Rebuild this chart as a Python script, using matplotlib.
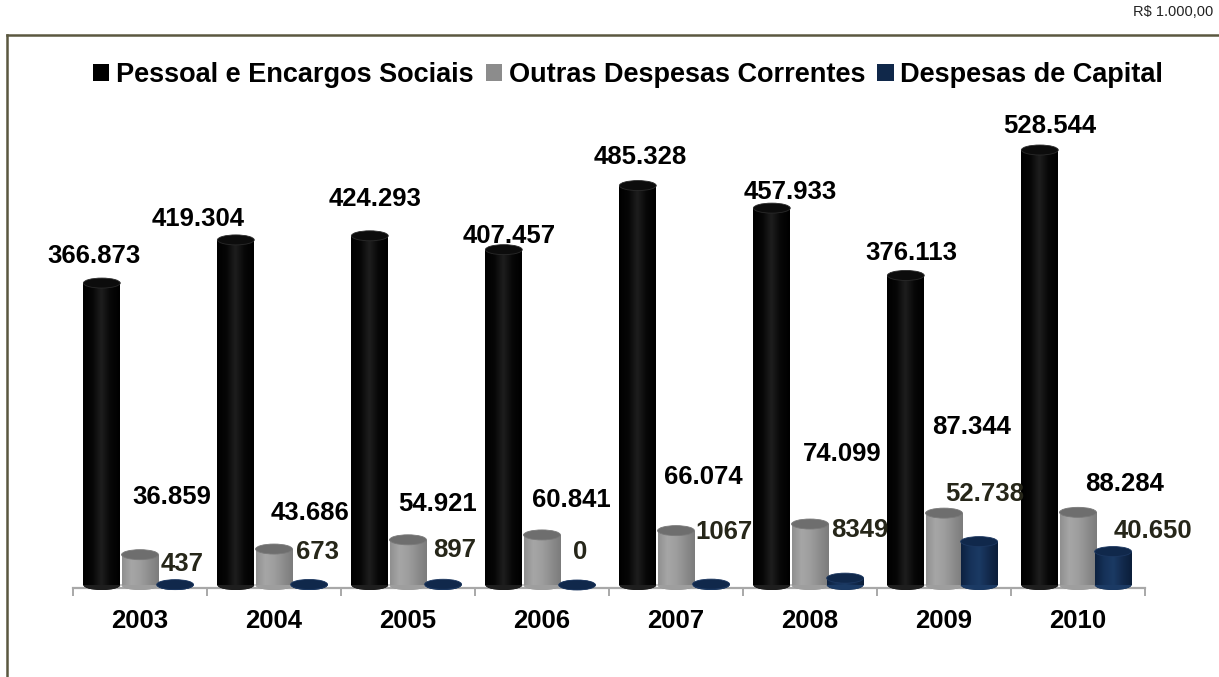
import matplotlib
matplotlib.use('Agg')
import matplotlib.pyplot as plt
import numpy as np
from matplotlib.patches import Ellipse, Patch
from matplotlib.colors import LinearSegmentedColormap
from matplotlib.lines import Line2D

plt.rcParams['font.family'] = ['Liberation Sans', 'DejaVu Sans']

# ---------------- data ----------------
years = ['2003', '2004', '2005', '2006', '2007', '2008', '2009', '2010']
series_names = ['Pessoal e Encargos Sociais', 'Outras Despesas Correntes', 'Despesas de Capital']
pessoal = [366873, 419304, 424293, 407457, 485328, 457933, 376113, 528544]
outras = [36859, 43686, 54921, 60841, 66074, 74099, 87344, 88284]
capital = [437, 673, 897, 0, 1067, 8349, 52738, 40650]
unit_note = 'R$ 1.000,00'

# label placement (pixel offsets from the top centre of each cylinder)
off_pessoal = [(-8, 27), (-38, 21), (5, 37), (5, 14), (2, 29), (18, 16), (6, 22), (10, 24)]
off_outras = [(32, 58), (36, 36), (30, 36), (29, 35), (27, 54), (32, 70), (28, 86), (47, 28)]
off_capital = [(7, 21), (8, 32), (12, 34), (3, 33), (13, 52), (15, 48), (6, 48), (40, 21)]

W, H, DPI = 1219, 677, 100
fig = plt.figure(figsize=(W / DPI, H / DPI), dpi=DPI)
fig.patch.set_facecolor('white')

ax_left, ax_right, ax_bottom, ax_top = 73, 1145, 585, 100
ax = fig.add_axes([ax_left / W, (H - ax_bottom) / H, (ax_right - ax_left) / W, (ax_bottom - ax_top) / H])
px_per_unit = 0.823 / 1000.0
ymax = (ax_bottom - ax_top) / px_per_unit
ax.set_xlim(-0.5, 7.5)
ax.set_ylim(0, ymax)
data_per_px = ymax / (ax_bottom - ax_top)


def fmt(v):
    if v >= 10000:
        return f'{v:,.0f}'.replace(',', '.')
    return f'{v:.0f}'


styles = [
    dict(vals=pessoal, shift=-0.285, offs=off_pessoal, lcolor='#000000',
         cmap=['#000000', '#060606', '#1e1e1e', '#070707', '#000000'],
         base='#050505', top='#0c0c0c', tedge='#2a2a2a'),
    dict(vals=outras, shift=0.0, offs=off_outras, lcolor='#000000',
         cmap=['#909090', '#a6a6a6', '#9e9e9e', '#8c8c8c', '#7c7c7c'],
         base='#909090', top='#6e6e6e', tedge='#7a7a7a'),
    dict(vals=capital, shift=0.262, offs=off_capital, lcolor='#262619',
         cmap=['#0c2140', '#163259', '#1b3a64', '#122a4d', '#0b1e3a'],
         base='#102648', top='#10284b', tedge='#1c3760'),
]
bw = 0.275
ell_h = 10 * data_per_px
grad = np.linspace(0, 1, 64).reshape(1, -1)
x = np.arange(len(years))

for st in styles:
    cm = LinearSegmentedColormap.from_list('c', st['cmap'])
    xs = x + st['shift']
    bars = ax.bar(xs, st['vals'], width=bw, color=st['base'], zorder=3, linewidth=0)
    for b, v, (dx, dy) in zip(bars, st['vals'], st['offs']):
        cx = b.get_x() + b.get_width() / 2
        ax.add_patch(Ellipse((cx, 0), bw, ell_h, facecolor=st['base'], edgecolor='none',
                             zorder=2.9, clip_on=False))
        if b.get_height() > 0:
            im = ax.imshow(grad, extent=[b.get_x(), b.get_x() + bw, 0, b.get_height()],
                           aspect='auto', cmap=cm, zorder=3.1, interpolation='bicubic')
            im.set_clip_path(b)
            ax.add_patch(Ellipse((cx, 0), bw, ell_h, facecolor=cm(0.5), edgecolor='none',
                                 zorder=3.05, clip_on=False))
        ax.add_patch(Ellipse((cx, v), bw, ell_h, facecolor=st['top'], edgecolor=st['tedge'],
                             linewidth=0.6, zorder=3.3, clip_on=False))
        ax.annotate(fmt(v), xy=(cx, v), xytext=(dx, dy), textcoords='offset pixels',
                    ha='center', va='center', fontsize=18.5, fontweight='bold',
                    color=st['lcolor'], zorder=5, annotation_clip=False)

ax.set_xlim(-0.5, 7.5)
ax.set_ylim(0, ymax)

for s in ['top', 'right', 'left']:
    ax.spines[s].set_visible(False)
ax.spines['bottom'].set_position(('outward', 2.2))
ax.spines['bottom'].set_color('#a8a8a8')
ax.spines['bottom'].set_linewidth(1.6)
ax.spines['bottom'].set_zorder(2)
ax.set_yticks([])
ax.set_xticks(np.arange(-0.5, 8, 1))
ax.set_xticklabels([])
ax.tick_params(axis='x', which='major', direction='out', length=6, width=1.4, color='#a8a8a8')
ax.set_xticks(x, minor=True)
ax.set_xticklabels(years, minor=True, fontsize=18.5, fontweight='bold')
ax.tick_params(axis='x', which='minor', length=0, pad=15)
ax.patch.set_alpha(0)

handles = [Patch(facecolor='#000000'), Patch(facecolor='#8c8c8c'), Patch(facecolor='#10284a')]
fig.legend(handles=handles, labels=series_names, loc='center', bbox_to_anchor=(628 / W, 1 - 75 / H),
           ncol=3, frameon=False, prop=dict(weight='bold', size=19.5),
           handlelength=0.6, handleheight=0.6, handletextpad=0.25, columnspacing=0.45)

fig.text(1213 / W, 1 - 12 / H, unit_note, ha='right', va='center', fontsize=10.5, color='#222222')

frame_c = '#5b5840'
fig.add_artist(Line2D([7 / W, 7 / W], [0, 1 - 35 / H], transform=fig.transFigure, color=frame_c, lw=1.8))
fig.add_artist(Line2D([7 / W, 1], [1 - 35 / H, 1 - 35 / H], transform=fig.transFigure, color=frame_c, lw=1.8))

fig.savefig('out.png', dpi=DPI, facecolor='white')
